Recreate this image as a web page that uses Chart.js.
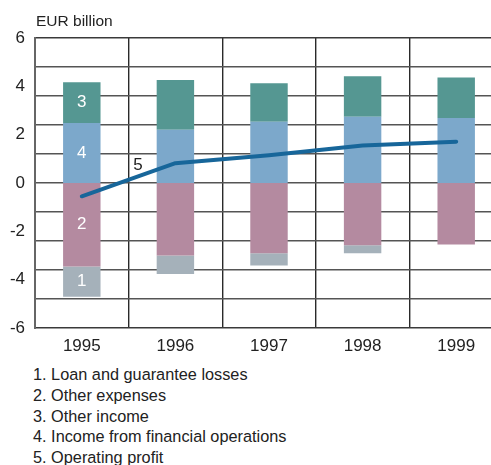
<!DOCTYPE html>
<html>
<head>
<meta charset="utf-8">
<script src="https://cdn.jsdelivr.net/npm/chart.js@4"></script>
<style>
  html, body { margin: 0; padding: 0; background: #fff; overflow: hidden; }
  #wrap { position: relative; width: 491px; height: 465px; overflow: hidden; }
  #unit { position: absolute; left: 36px; top: 12px; font: 15.5px "Liberation Sans", Arial, sans-serif; color: #222; }
  #chart { position: absolute; left: 0; top: 0; }
  #legend { position: absolute; left: 33px; top: 364px; font: 16.3px "Liberation Sans", Arial, sans-serif; line-height: 20.8px; color: #222; white-space: nowrap; }
</style>
</head>
<body>
<div id="wrap">
  <canvas id="chart" width="505" height="362"></canvas>
  <div id="unit">EUR billion</div>
  <div id="legend"></div>
</div>
<script>
// data (EUR billion)
const years = ["1995", "1996", "1997", "1998", "1999"];
const finOps = [2.48, 2.20, 2.53, 2.74, 2.69];          // 4. Income from financial operations
const otherIncome = [1.69, 2.06, 1.60, 1.68, 1.68];     // 3. Other income
const otherExpenses = [-3.45, -3.00, -2.91, -2.58, -2.54]; // 2. Other expenses
const loanLosses = [-1.26, -0.77, -0.50, -0.33, 0];     // 1. Loan and guarantee losses
const operatingProfit = [-0.55, 0.82, 1.15, 1.55, 1.71]; // 5. Operating profit
const yTicks = [-6, -4, -2, 0, 2, 4, 6];
const legendLines = [
  "1. Loan and guarantee losses",
  "2. Other expenses",
  "3. Other income",
  "4. Income from financial operations",
  "5. Operating profit"
];

document.getElementById("legend").innerHTML = legendLines.map(t => `<div>${t}</div>`).join("");

const font = "Liberation Sans, Arial, sans-serif";

// numbers written inside the 1995 bars and next to the line
const numberLabels = {
  id: "numberLabels",
  afterDatasetsDraw(chart) {
    const ctx = chart.ctx;
    ctx.save();
    ctx.font = "17px " + font;
    ctx.textAlign = "center";
    ctx.textBaseline = "middle";
    chart.data.datasets.forEach((ds, i) => {
      if (!ds.num || ds.type === "line") return;
      const el = chart.getDatasetMeta(i).data[0];
      ctx.fillStyle = "#ffffff";
      ctx.fillText(ds.num, el.x, (el.y + el.base) / 2);
    });
    const xs = chart.scales.x, ys = chart.scales.y;
    ctx.fillStyle = "#222";
    ctx.fillText("5", xs.getPixelForValue(0.6), ys.getPixelForValue(0.75));
    ctx.restore();
  }
};

new Chart(document.getElementById("chart"), {
  type: "bar",
  data: {
    labels: years,
    datasets: [
      {
        type: "line", label: legendLines[4], num: "5", data: operatingProfit,
        borderColor: "#17669a", borderWidth: 4, pointRadius: 0, tension: 0,
        borderCapStyle: "round", borderJoinStyle: "round", fill: false
      },
      { label: legendLines[3], num: "4", data: finOps, backgroundColor: "#7ca8cb" },
      { label: legendLines[2], num: "3", data: otherIncome, backgroundColor: "#559792" },
      { label: legendLines[1], num: "2", data: otherExpenses, backgroundColor: "#b48aa0" },
      { label: legendLines[0], num: "1", data: loanLosses, backgroundColor: "#a5b1ba" }
    ]
  },
  options: {
    responsive: false,
    animation: false,
    devicePixelRatio: 1,
    layout: { padding: { top: 38, right: 2, left: 0, bottom: 0 } },
    datasets: { bar: { barPercentage: 0.4, categoryPercentage: 1, borderWidth: 0 } },
    plugins: { legend: { display: false }, tooltip: { enabled: false } },
    scales: {
      x: {
        stacked: true,
        grid: { display: true, offset: true, color: "#2a2a2a", lineWidth: 1.4, drawTicks: false },
        border: { display: false },
        ticks: { color: "#222", font: { family: font, size: 17 }, padding: 8 },
        afterFit: s => { s.height = 34; }
      },
      y: {
        stacked: true,
        position: "left",
        min: -6, max: 6,
        afterBuildTicks: s => { s.ticks = yTicks.map(v => ({ value: v })); },
        grid: { display: false, drawTicks: false },
        border: { display: true, color: "#666", width: 2 },
        ticks: { color: "#222", font: { family: font, size: 17 }, padding: 10 },
        afterFit: s => { s.width = 35; }
      },
      yGrid: {
        position: "left",
        min: -6, max: 6,
        grid: { color: ctx => (Math.abs(ctx.tick.value) === 6 ? "#3a3a3a" : "#555"), lineWidth: 1.4, drawTicks: false },
        border: { display: false },
        ticks: { display: false, stepSize: 1.2 },
        afterFit: s => { s.width = 0; }
      }
    }
  },
  plugins: [numberLabels]
});
</script>
</body>
</html>
